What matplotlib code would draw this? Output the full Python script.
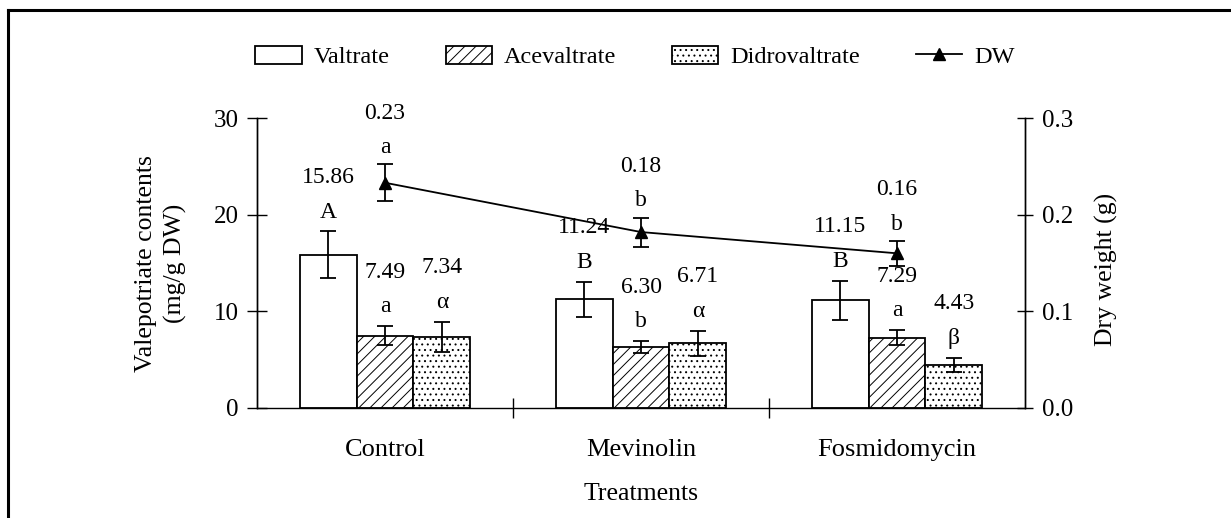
import matplotlib.pyplot as plt
import numpy as np
from matplotlib.lines import Line2D
from matplotlib.patches import Patch

plt.rcParams['font.family'] = ['Liberation Serif', 'DejaVu Serif']
plt.rcParams['hatch.linewidth'] = 0.7

categories = ['Control', 'Mevinolin', 'Fosmidomycin']

valtrate = [15.86, 11.24, 11.15]
valtrate_err = [2.4, 1.8, 2.0]
valtrate_letters = ['A', 'B', 'B']

acevaltrate = [7.49, 6.30, 7.29]
acevaltrate_err = [0.95, 0.6, 0.75]
acevaltrate_letters = ['a', 'b', 'a']

didrovaltrate = [7.34, 6.71, 4.43]
didrovaltrate_err = [1.6, 1.3, 0.75]
didrovaltrate_letters = ['\u03b1', '\u03b1', '\u03b2']

dw = [0.233, 0.182, 0.160]
dw_err = [0.019, 0.015, 0.013]
dw_letters = ['a', 'b', 'b']

fig = plt.figure(figsize=(12.31, 5.18), dpi=100)
ax = fig.add_axes([0.2088, 0.2124, 0.6239, 0.5598])
ax2 = ax.twinx()

x = np.arange(len(categories))
w = 0.222
err_kw = dict(ecolor='black', elinewidth=1.3, capsize=6, capthick=1.3)

series = [
    (valtrate, valtrate_err, valtrate_letters, -w, None, 'Valtrate'),
    (acevaltrate, acevaltrate_err, acevaltrate_letters, 0, '///', 'Acevaltrate'),
    (didrovaltrate, didrovaltrate_err, didrovaltrate_letters, w, '...', 'Didrovaltrate'),
]

for vals, errs, letters, off, hatch, name in series:
    ax.bar(x + off, vals, w, yerr=errs, color='white', edgecolor='black',
           linewidth=1.3, hatch=hatch, error_kw=err_kw, zorder=2)
    for xi, v, e, let in zip(x + off, vals, errs, letters):
        ax.annotate(let, (xi, v + e), xytext=(0, 14), textcoords='offset points',
                    ha='center', va='center', fontsize=17)
        ax.annotate('%.2f' % v, (xi, v + e), xytext=(0, 39), textcoords='offset points',
                    ha='center', va='center', fontsize=17)

ax2.errorbar(x, dw, yerr=dw_err, color='black', lw=1.3, marker='^', ms=9,
             capsize=6, capthick=1.3, elinewidth=1.3, zorder=3)
for xi, v, e, let in zip(x, dw, dw_err, dw_letters):
    ax2.annotate(let, (xi, v + e), xytext=(0, 12), textcoords='offset points',
                 ha='center', va='center', fontsize=17)
    ax2.annotate('%.2f' % v, (xi, v + e), xytext=(0, 37), textcoords='offset points',
                 ha='center', va='center', fontsize=17)

ax.set_xlim(-0.5, 2.5)
ax.set_ylim(0, 30)
ax.set_yticks([0, 10, 20, 30])
ax2.set_ylim(0, 0.3)
ax2.set_yticks([0.0, 0.1, 0.2, 0.3])
ax2.set_yticklabels(['0.0', '0.1', '0.2', '0.3'])

ax.set_xticks(x)
ax.set_xticklabels(categories)
ax.set_xticks([0.5, 1.5], minor=True)
ax.tick_params(axis='x', which='major', length=0, pad=22, labelsize=19)
ax.tick_params(axis='x', which='minor', direction='inout', length=14, width=1)
ax.tick_params(axis='y', direction='inout', length=14, width=1, pad=6, labelsize=18)
ax2.tick_params(axis='y', direction='inout', length=12, width=1, pad=6, labelsize=18)

for a in (ax, ax2):
    a.spines['top'].set_visible(False)
    for s in ('left', 'right', 'bottom'):
        a.spines[s].set_linewidth(1)
ax2.spines['bottom'].set_visible(False)

ax.set_xlabel('Treatments', fontsize=18.5, labelpad=16)
fig.text(161 / 1231, 0.492, 'Valepotriate contents\n(mg/g DW)', rotation=90,
         ha='center', va='center', fontsize=18.5, linespacing=1.4)
fig.text(1106 / 1231, 0.48, 'Dry weight (g)', rotation=90,
         ha='center', va='center', fontsize=18.5)

handles = [
    Patch(facecolor='white', edgecolor='black', linewidth=1.3, label='Valtrate'),
    Patch(facecolor='white', edgecolor='black', linewidth=1.3, hatch='///', label='Acevaltrate'),
    Patch(facecolor='white', edgecolor='black', linewidth=1.3, hatch='...', label='Didrovaltrate'),
    Line2D([], [], color='black', lw=1.3, marker='^', ms=9, label='DW'),
]
fig.legend(handles=handles, loc='center', bbox_to_anchor=(0.516, 0.89), ncol=4,
           frameon=False, fontsize=17.5, handlelength=1.9, handleheight=0.75,
           columnspacing=2.3, handletextpad=0.5)

# border
fig.add_artist(Line2D([0.0065, 0.0065], [0, 1 - 10 / 518], color='black', lw=2.2,
                      transform=fig.transFigure))
fig.add_artist(Line2D([0.0065, 1], [1 - 10 / 518, 1 - 10 / 518], color='black', lw=2.2,
                      transform=fig.transFigure))

fig.savefig('out.png', dpi=100)
